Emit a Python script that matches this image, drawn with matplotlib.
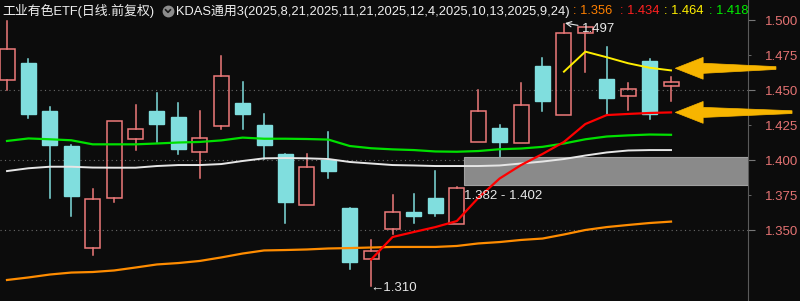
import matplotlib
matplotlib.use('Agg')
import matplotlib.pyplot as plt
from matplotlib.patches import Rectangle, Polygon
from matplotlib.ticker import FixedLocator, FormatStrFormatter

# 日线 K线 (前复权)
opens = [1.457, 1.469, 1.435, 1.410, 1.337, 1.373, 1.415, 1.435, 1.431, 1.406, 1.424, 1.441,
         1.425, 1.404, 1.368, 1.400, 1.366, 1.329, 1.351, 1.363, 1.373, 1.354, 1.413, 1.423,
         1.412, 1.467, 1.432, 1.491, 1.458, 1.446, 1.471, 1.453]
highs = [1.499, 1.472, 1.438, 1.411, 1.379, 1.428, 1.439, 1.448, 1.441, 1.435, 1.474, 1.456,
         1.433, 1.404, 1.404, 1.420, 1.366, 1.343, 1.375, 1.376, 1.392, 1.381, 1.450, 1.425,
         1.455, 1.473, 1.497, 1.495, 1.481, 1.455, 1.472, 1.459]
lows = [1.450, 1.430, 1.373, 1.360, 1.332, 1.370, 1.407, 1.413, 1.404, 1.387, 1.422, 1.422,
        1.401, 1.355, 1.368, 1.387, 1.322, 1.310, 1.347, 1.355, 1.360, 1.354, 1.413, 1.402,
        1.412, 1.435, 1.432, 1.463, 1.433, 1.436, 1.429, 1.442]
closes = [1.479, 1.433, 1.411, 1.374, 1.372, 1.428, 1.422, 1.426, 1.408, 1.416, 1.460, 1.433,
          1.411, 1.370, 1.395, 1.392, 1.327, 1.335, 1.363, 1.360, 1.362, 1.380, 1.435, 1.413,
          1.439, 1.442, 1.491, 1.495, 1.444, 1.451, 1.433, 1.456]

# KDAS 线 (锚点 2025-8-21 / 11-21 / 12-4 / 10-13 / 9-24)
kdas_orange = [1.3143, 1.3161, 1.3182, 1.3196, 1.3200, 1.3211, 1.3232, 1.3254, 1.3264, 1.3279,
               1.3304, 1.3332, 1.3354, 1.3357, 1.3361, 1.3368, 1.3371, 1.3375, 1.3379, 1.3379,
               1.3379, 1.3386, 1.3404, 1.3414, 1.3429, 1.3439, 1.3468, 1.3500, 1.3521, 1.3536,
               1.3550, 1.3560]
kdas_green = [1.4136, 1.4154, 1.4148, 1.4141, 1.4112, 1.4112, 1.4112, 1.4118, 1.4125, 1.4129,
              1.4140, 1.4160, 1.4152, 1.4152, 1.4150, 1.4146, 1.4100, 1.4084, 1.4076, 1.4071,
              1.4061, 1.4059, 1.4064, 1.4077, 1.4082, 1.4094, 1.4118, 1.4148, 1.4168, 1.4176,
              1.4182, 1.4180]
kdas_red = [1.3289, 1.3450, 1.3486, 1.3521, 1.3564, 1.3729, 1.3868, 1.3964, 1.4043, 1.4129,
            1.4257, 1.4321, 1.4329, 1.4336, 1.4340]
red_start = 17
kdas_yellow = [1.4631, 1.4774, 1.4734, 1.4691, 1.4659, 1.4640]
yellow_start = 26
ma_white = [1.3921, 1.3941, 1.3952, 1.3952, 1.3946, 1.3945, 1.3945, 1.3957, 1.3964, 1.3964,
            1.3971, 1.3993, 1.4012, 1.4014, 1.4012, 1.4007, 1.3986, 1.3975, 1.3964, 1.3961,
            1.3957, 1.3957, 1.3957, 1.3961, 1.3975, 1.3989, 1.4007, 1.4032, 1.4054, 1.4068,
            1.4071, 1.4071]

zone_low, zone_high = 1.382, 1.402
zone_start = 21.33

major_ticks = [1.35, 1.40, 1.45, 1.50]
minor_ticks = [1.375, 1.425, 1.475]

bg = '#0c0c0c'
up_col = '#ee7a7a'
down_col = '#80dede'
gold = '#f7b500'
axis_col = '#e57373'

n = len(opens)
fig = plt.figure(figsize=(8, 3.01), dpi=100, facecolor=bg)
ax = fig.add_axes([0, 0, 748 / 800, 1])
ax.set_facecolor(bg)
ax.set_xlim(-0.327, 34.594)
ax.set_ylim(1.29929, 1.51429)

# 网格
for g in [1.35, 1.40, 1.45]:
    ax.axhline(g, color='#6a6a6a', lw=0.8, linestyle=(0, (1, 3)), zorder=1)

# K线
w = 0.70
for i in range(n):
    o, h, l, c = opens[i], highs[i], lows[i], closes[i]
    if c >= o:
        ax.add_patch(Rectangle((i - w / 2, o), w, c - o, fill=False, edgecolor=up_col, lw=1.1, zorder=3))
        ax.plot([i, i], [c, h], color=up_col, lw=1.1, zorder=3)
        ax.plot([i, i], [l, o], color=up_col, lw=1.1, zorder=3)
    else:
        ax.plot([i, i], [l, h], color=down_col, lw=1.1, zorder=2)
        ax.add_patch(Rectangle((i - w / 2, c), w, o - c, facecolor=down_col, edgecolor=down_col, lw=1, zorder=3))

# 区间
ax.add_patch(Rectangle((zone_start, zone_low), 40, zone_high - zone_low, facecolor='#8a8a8a',
                       edgecolor='#a0a0a0', lw=0.8, zorder=4))
ax.text(zone_start, 1.3745, '%.3f - %.3f' % (zone_low, zone_high), color='#e8e8e8', fontsize=9.5,
        family=['Liberation Sans', 'DejaVu Sans'], va='center', ha='left', zorder=6)

# 线
x_all = list(range(n))
ax.plot(x_all, kdas_orange, color='#ff8c00', lw=1.6, zorder=5)
ax.plot(x_all, ma_white, color='#e6e6e6', lw=1.4, zorder=5)
ax.plot(x_all, kdas_green, color='#00e000', lw=1.6, zorder=5)
ax.plot(range(red_start, red_start + len(kdas_red)), kdas_red, color='#ff0000', lw=1.6, zorder=5)
ax.plot(range(yellow_start, yellow_start + len(kdas_yellow)), kdas_yellow, color='#ffee00', lw=1.4, zorder=5)

# 最高/最低标注
ax.annotate('1.497', xy=(26.05, 1.4978), xytext=(26.85, 1.4936), color='#e8e8e8', fontsize=9.5,
            family=['Liberation Sans', 'DejaVu Sans'], va='center', ha='left', zorder=7,
            arrowprops=dict(arrowstyle='->', color='#e8e8e8', lw=0.8, shrinkA=1, shrinkB=0))
ax.text(16.95, 1.3086, '\u21901.310', color='#e8e8e8', fontsize=9.5,
        family=['Liberation Sans', 'DejaVu Sans'], va='center', ha='left', zorder=7)

# 黄色箭头
def big_arrow(y, tail_x):
    tip = n - 1 + 0.2
    base = tip + 1.3
    pts = [(tip, y), (base, y + 0.0078), (base, y + 0.0036), (tail_x, y + 0.0012),
           (tail_x, y - 0.0008), (base, y - 0.0036), (base, y - 0.0078)]
    ax.add_patch(Polygon(pts, closed=True, facecolor=gold, edgecolor=gold, lw=0.5, zorder=8, clip_on=False))

big_arrow(kdas_yellow[-1] + 0.0015, 35.9)
big_arrow(kdas_red[-1], 36.65)

# 右侧坐标轴
for s in ['left', 'top', 'bottom']:
    ax.spines[s].set_visible(False)
ax.spines['right'].set_color('#5a5a5a')
ax.xaxis.set_visible(False)
ax.yaxis.tick_right()
ax.yaxis.set_major_locator(FixedLocator(major_ticks))
ax.yaxis.set_minor_locator(FixedLocator(minor_ticks))
ax.yaxis.set_major_formatter(FormatStrFormatter('%.3f'))
ax.yaxis.set_minor_formatter(FormatStrFormatter('%.3f'))
ax.tick_params(axis='y', which='major', length=5, color='#777777', pad=7, labelsize=9.5, labelcolor=axis_col)
ax.tick_params(axis='y', which='minor', length=2, color='#777777', pad=10, labelsize=9.5, labelcolor=axis_col)
for lab in ax.get_yticklabels(which='both'):
    lab.set_family(['Liberation Sans', 'DejaVu Sans'])

# 标题栏
hf = ['Liberation Sans', 'Noto Sans CJK SC', 'DejaVu Sans']
ty = 1 - 11 / 301
ax.text(2 / 748, ty, '工业有色ETF(日线.前复权)', color='#f0f0f0', fontsize=9.3, family=hf,
        transform=ax.transAxes, va='center', ha='left', clip_on=True, zorder=9)
ax.plot([168 / 748], [ty], marker='o', markersize=7.5, color='#8c8c8c', transform=ax.transAxes,
        clip_on=False, zorder=9)
ax.plot([165.6 / 748, 168 / 748, 170.4 / 748], [1 - 9.8 / 301, 1 - 12.3 / 301, 1 - 9.8 / 301],
        color='#1a1a1a', lw=1.2, transform=ax.transAxes, clip_on=False, zorder=10)
ax.text(176 / 748, ty, 'KDAS通用3(2025,8,21,2025,11,21,2025,12,4,2025,10,13,2025,9,24)', color='#f0f0f0',
        fontsize=9.3, family=hf, transform=ax.transAxes, va='center', ha='left', clip_on=True, zorder=9)
header_vals = [(573, ': %.3f' % kdas_orange[-1], '#ff8000'),
               (620, ': %.3f' % kdas_red[-1], '#ff2020'),
               (664, ': %.3f' % kdas_yellow[-1], '#ffee00'),
               (709, ': %.3f' % kdas_green[-1], '#00ee00')]
for px, s, col in header_vals:
    ax.text(px / 748, ty, s, color=col, fontsize=9.3, family=hf, transform=ax.transAxes,
            va='center', ha='left', clip_on=True, zorder=9)

fig.savefig('out.png', dpi=100, facecolor=bg)
